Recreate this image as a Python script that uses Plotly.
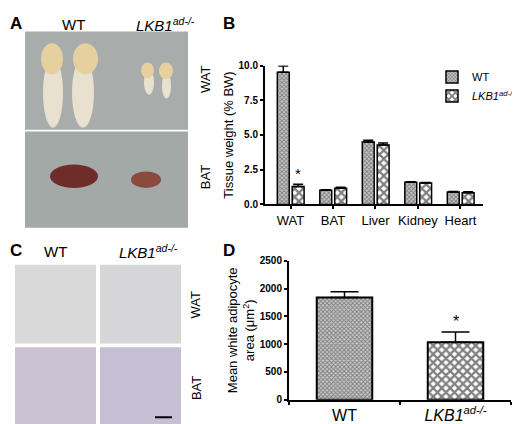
import plotly.graph_objects as go

# ---- data ----
tissues = ["WAT", "BAT", "Liver", "Kidney", "Heart"]
wt_weight = [9.52, 1.02, 4.50, 1.60, 0.89]
wt_weight_err = [0.45, 0.04, 0.12, 0.03, 0.05]
ko_weight = [1.30, 1.17, 4.27, 1.54, 0.85]
ko_weight_err = [0.16, 0.06, 0.15, 0.04, 0.06]

groups = ["WT", "<i>LKB1<sup>ad-/-</sup></i>"]
cell_area = [1842, 1033]
cell_area_err = [100, 185]

W, H = 520, 424
FONT = "Liberation Sans, Arial, sans-serif"
KO = "<i>LKB1<sup>ad-/-</sup></i>"


def fx(v):
    return v / W


def fy(v):
    return 1 - v / H


shapes = []


def box(x0, y0, x1, y1, color, kind="rect", line=None):
    shapes.append(dict(type=kind, xref="paper", yref="paper", layer="below",
                       x0=fx(x0), x1=fx(x1), y0=fy(y1), y1=fy(y0),
                       fillcolor=color, line=line or dict(width=0)))


# panel A photo (stand-in blocks)
box(17, 18, 180, 119, "#a8adac")
box(17, 121, 180, 220, "#a3a9a7")
box(35, 45, 55, 117, "#e8e1cf", "circle")
box(33, 30, 55, 62, "#e6d09f", "circle")
box(64, 45, 86, 117, "#e8e1cf", "circle")
box(65, 30, 90, 62, "#e6d09f", "circle")
box(136, 58, 146, 83, "#e8e1cf", "circle")
box(133, 50, 146, 66, "#e6d09f", "circle")
box(154, 60, 163, 87, "#e8e1cf", "circle")
box(151, 50, 165, 67, "#e6d09f", "circle")
box(42, 155, 90, 179, "#6e2d29", "circle")
box(123, 162, 153, 179, "#8a4a3e", "circle")

# panel C histology (stand-in blocks)
box(7, 258, 88, 339, "#d9d9d9")
box(92, 258, 173, 339, "#d6d6d8")
box(7, 343, 88, 424, "#cbc3d4")
box(92, 343, 173, 424, "#c6bfd3")
shapes.append(dict(type="line", xref="paper", yref="paper",
                   x0=fx(147), x1=fx(164), y0=fy(415), y1=fy(415),
                   line=dict(color="black", width=2)))

fig = go.Figure()

wt_pattern = dict(shape="x", size=3, solidity=0.5, fgcolor="#333", bgcolor="#c8c8c8")
ko_pattern = dict(shape="x", size=6, solidity=0.6, fgcolor="black", bgcolor="white")

fig.add_trace(go.Bar(
    x=tissues, y=wt_weight, name="WT", width=0.28, offset=-0.31,
    marker=dict(color="white", line=dict(color="black", width=1.5), pattern=wt_pattern),
    error_y=dict(type="data", symmetric=False, array=wt_weight_err,
                 arrayminus=[0] * len(tissues), color="black", thickness=1.5, width=5),
    xaxis="x", yaxis="y"))

fig.add_trace(go.Bar(
    x=tissues, y=ko_weight, name=KO, width=0.28, offset=0.04,
    marker=dict(color="white", line=dict(color="black", width=1.5), pattern=ko_pattern),
    error_y=dict(type="data", symmetric=False, array=ko_weight_err,
                 arrayminus=[0] * len(tissues), color="black", thickness=1.5, width=5),
    xaxis="x", yaxis="y"))

fig.add_trace(go.Bar(
    x=groups, y=cell_area, width=0.5, showlegend=False,
    marker=dict(color="white", line=dict(color="black", width=2),
                pattern=dict(shape="x", size=[3, 6], solidity=[0.5, 0.6],
                             fgcolor=["#333", "black"], bgcolor=["#c8c8c8", "white"])),
    error_y=dict(type="data", symmetric=False, array=cell_area_err,
                 arrayminus=[0, 0], color="black", thickness=1.5, width=14),
    xaxis="x2", yaxis="y2"))

axis_common = dict(showline=True, linecolor="black", linewidth=2, ticks="outside",
                   ticklen=3, tickwidth=1.5, tickcolor="black", showgrid=False,
                   zeroline=False)

tick_bold = dict(family=FONT, size=10, color="black", weight="bold")

notes = [
    dict(x=fx(8), y=fy(10), text="<b>A</b>", font=dict(size=17)),
    dict(x=fx(221), y=fy(10), text="<b>B</b>", font=dict(size=17)),
    dict(x=fx(8), y=fy(243), text="<b>C</b>", font=dict(size=17)),
    dict(x=fx(221), y=fy(243), text="<b>D</b>", font=dict(size=17)),
    dict(x=fx(65), y=fy(11), text="WT", font=dict(size=15)),
    dict(x=fx(157), y=fy(11), text=KO, font=dict(size=15)),
    dict(x=fx(47), y=fy(244), text="WT", font=dict(size=15)),
    dict(x=fx(140), y=fy(244), text=KO, font=dict(size=15)),
    dict(x=fx(197), y=fy(68), text="WAT", textangle=-90, font=dict(size=13)),
    dict(x=fx(197), y=fy(168), text="BAT", textangle=-90, font=dict(size=13)),
    dict(x=fx(188), y=fy(300), text="WAT", textangle=-90, font=dict(size=13)),
    dict(x=fx(188), y=fy(385), text="BAT", textangle=-90, font=dict(size=13)),
]
annotations = []
for n in notes:
    a = dict(xref="paper", yref="paper", showarrow=False, xanchor="center",
             yanchor="middle")
    a.update(n)
    a["font"] = dict(family=FONT, color="black", **n["font"])
    annotations.append(a)

annotations.append(dict(x=0.18, y=ko_weight[0] + ko_weight_err[0], xref="x", yref="y",
                        text="*", showarrow=False, yanchor="bottom",
                        font=dict(family=FONT, size=15, color="black")))
annotations.append(dict(x=1, y=cell_area[1] + cell_area_err[1], xref="x2", yref="y2",
                        text="*", showarrow=False, yanchor="bottom",
                        font=dict(family=FONT, size=16, color="black")))

fig.update_layout(
    width=W, height=H,
    margin=dict(l=0, r=0, t=0, b=0),
    paper_bgcolor="white", plot_bgcolor="white",
    font=dict(family=FONT, color="black"),
    barmode="overlay",
    shapes=shapes,
    annotations=annotations,
    showlegend=True,
    legend=dict(x=fx(424), y=fy(50), xanchor="left", yanchor="top",
                font=dict(family=FONT, size=11), bgcolor="rgba(0,0,0,0)",
                tracegroupgap=0),
    xaxis=dict(domain=[fx(257), fx(475)], range=[-0.6, 4.53], anchor="y",
               tickfont=dict(family=FONT, size=13), **axis_common),
    yaxis=dict(domain=[fy(196), fy(53)], range=[0, 10], dtick=2.5, tickformat=".1f",
               anchor="x", tickfont=tick_bold,
               title=dict(text="Tissue weight (% BW)", font=dict(family=FONT, size=13),
                          standoff=2),
               **axis_common),
    xaxis2=dict(domain=[fx(281), fx(503)], range=[-0.5, 1.5], anchor="y2",
                tickson="boundaries", tickfont=dict(family=FONT, size=16),
                **axis_common),
    yaxis2=dict(domain=[fy(397), fy(254)], range=[0, 2500], dtick=500, anchor="x2",
                tickfont=tick_bold,
                title=dict(text="Mean white adipocyte<br>area (μm<sup>2</sup>)",
                           font=dict(family=FONT, size=13), standoff=2),
                **axis_common),
)

fig.write_html("out.html")
